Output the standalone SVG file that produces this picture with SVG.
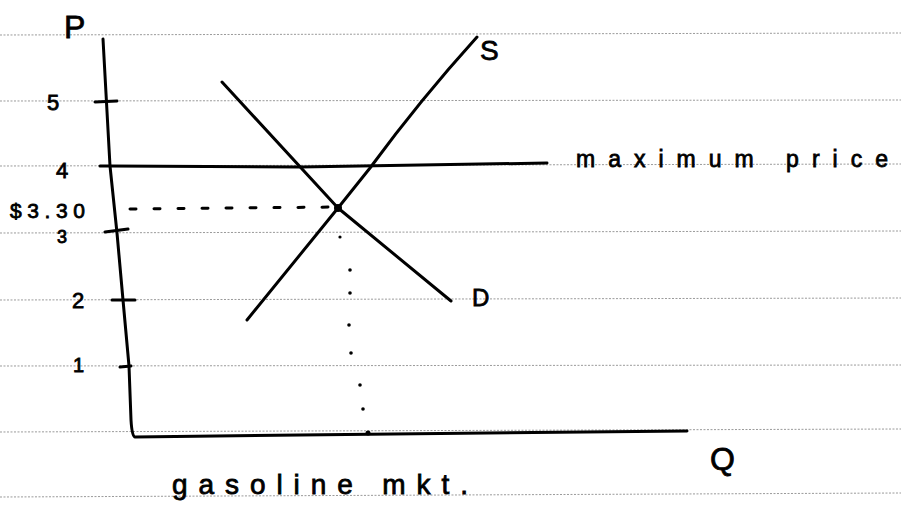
<svg xmlns="http://www.w3.org/2000/svg" width="901" height="513" viewBox="0 0 901 513">
<style>
.rule{stroke:#9a9a9a;stroke-width:1;stroke-dasharray:2 1.5;fill:none}
.ink{stroke:#000;stroke-width:3;fill:none;stroke-linecap:round;stroke-linejoin:round}
.dash{stroke:#000;stroke-width:3;fill:none;stroke-dasharray:6 18;stroke-linecap:round}
.lbl{font-family:"Liberation Sans","DejaVu Sans",sans-serif;fill:#000;stroke:#000;stroke-width:0.8}
</style>
<rect width="901" height="513" fill="#fff"/>
<g id="paper">
<path class="rule" d="M0 35L901 33M0 101L901 100M0 166L901 164M0 233L901 231M0 300L901 298M0 366L901 365M0 432L901 429M0 497L901 493"/>
</g>
<g id="axes">
<path class="ink" d="M103 39L110 166L117 233L123 300L129 366L131 420Q132 437 135 437L300 435L687 431"/>
<path class="ink" d="M95 102L117 101M100 166L110 166M105 232L128 229M112 300L135 300M120 367L131 366"/>
</g>
<g id="labels-axis">
<text class="lbl" x="64" y="38" font-size="32">P</text>
<text class="lbl" x="47" y="110" font-size="22">5</text>
<text class="lbl" x="56" y="178" font-size="22">4</text>
<text class="lbl" x="10" y="218" font-size="21" textLength="75" lengthAdjust="spacing">$3.30</text>
<text class="lbl" x="57" y="243" font-size="18">3</text>
<text class="lbl" x="72" y="308" font-size="22">2</text>
<text class="lbl" x="73" y="372" font-size="20">1</text>
<text class="lbl" x="710" y="470" font-size="32">Q</text>
<text class="lbl" x="172" y="494" font-size="28" textLength="296" lengthAdjust="spacing">gasoline  mkt.</text>
</g>
<g id="maximum-price">
<path class="ink" d="M110 166L300 167L547 163"/>
<text class="lbl" x="576" y="167" font-size="23" textLength="312" lengthAdjust="spacing">maximum  price</text>
</g>
<g id="supply">
<path class="ink" d="M247 320L338 208L370 168Q420 100 477 37"/>
<text class="lbl" x="480" y="60" font-size="28">S</text>
</g>
<g id="demand">
<path class="ink" d="M222 82L338 208L451 301"/>
<text class="lbl" x="472" y="306" font-size="24">D</text>
</g>
<g id="connectors">
<path class="dash" d="M130 209L338 207"/>
<circle cx="338" cy="208" r="4" fill="#000"/>
<g fill="#000">
<circle cx="340" cy="237" r="1.6"/>
<circle cx="350" cy="270" r="1.8"/>
<circle cx="350" cy="293" r="1.8"/>
<circle cx="349" cy="325" r="1.8"/>
<circle cx="351" cy="353" r="1.8"/>
<circle cx="360" cy="385" r="1.8"/>
<circle cx="363" cy="409" r="1.8"/>
<circle cx="368" cy="433" r="2.5"/>
</g>
</g>
</svg>
